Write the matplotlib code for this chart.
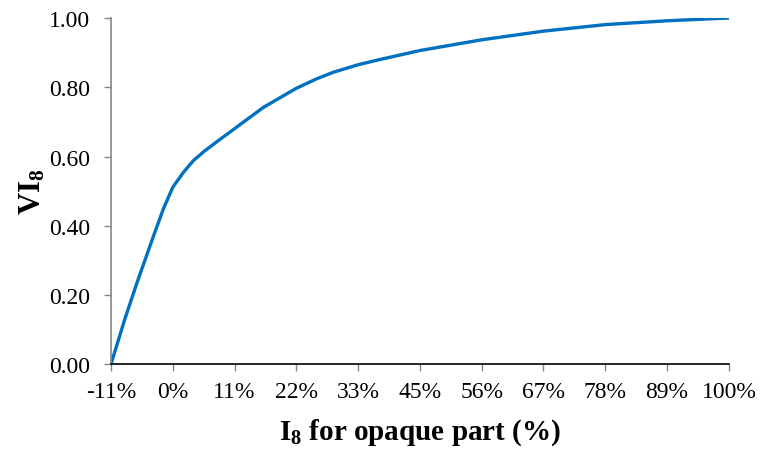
import matplotlib
matplotlib.use("Agg")
import matplotlib.pyplot as plt
import numpy as np

# Data (x in %, y = VI8)
x_pct = [-11.1, -8.6, -6.2, -4.7, -3.2, -1.7, 0.0, 1.9, 3.7, 5.8, 8.2, 10.9,
         13.0, 16.3, 22.2, 25.8, 28.8, 33.3, 37.2, 44.4, 55.5, 66.6, 77.8,
         88.9, 100.0]
vi8 = [0.000, 0.131, 0.246, 0.314, 0.382, 0.448, 0.511, 0.554, 0.588, 0.617,
       0.646, 0.678, 0.703, 0.742, 0.797, 0.824, 0.843, 0.865, 0.880, 0.906,
       0.937, 0.962, 0.981, 0.992, 1.000]

x_tick_vals = [-11.1, 0.0, 11.1, 22.2, 33.3, 44.4, 55.5, 66.6, 77.7, 88.8, 100.0]
x_tick_labels = ["-11%", "0%", "11%", "22%", "33%", "45%", "56%", "67%", "78%", "89%", "100%"]
y_tick_vals = [0.0, 0.2, 0.4, 0.6, 0.8, 1.0]

plt.rcParams['font.family'] = ['Liberation Serif', 'DejaVu Serif']
plt.rcParams['mathtext.fontset'] = 'custom'
plt.rcParams['mathtext.rm'] = 'Liberation Serif'
plt.rcParams['mathtext.bf'] = 'Liberation Serif:bold'
plt.rcParams['mathtext.it'] = 'Liberation Serif:italic'

fig = plt.figure(figsize=(7.6, 4.52), dpi=100)
ax = fig.add_axes([0.146, 0.1918, 0.8137, 0.7662])

ax.plot(x_pct, vi8, color='#0070C0', lw=2.4, solid_capstyle='round',
        solid_joinstyle='round')

ax.set_xlim(-11.1, 100.0)
ax.set_ylim(0, 1.0)
ax.set_xticks(x_tick_vals)
ax.set_xticklabels(x_tick_labels)
ax.set_yticks(y_tick_vals)
ax.set_yticklabels([f"{v:.2f}" for v in y_tick_vals])

for s in ['top', 'right']:
    ax.spines[s].set_visible(False)
ax.spines['left'].set_color('#868686')
ax.spines['left'].set_linewidth(1.2)
ax.spines['bottom'].set_color('black')
ax.spines['bottom'].set_linewidth(1.2)

ax.tick_params(axis='both', direction='out', length=5, width=1, color='#868686',
               labelsize=17, labelcolor='black')
ax.tick_params(axis='x', pad=7)
ax.tick_params(axis='y', pad=10)

ax.set_xlabel(r'$\mathbf{I_8}$ for opaque part (%)', fontsize=21, fontweight='bold', labelpad=10)
ax.set_ylabel(r'$\mathbf{VI_8}$', fontsize=22, fontweight='bold', labelpad=1)

fig.savefig('out.png', dpi=100, facecolor='white')
